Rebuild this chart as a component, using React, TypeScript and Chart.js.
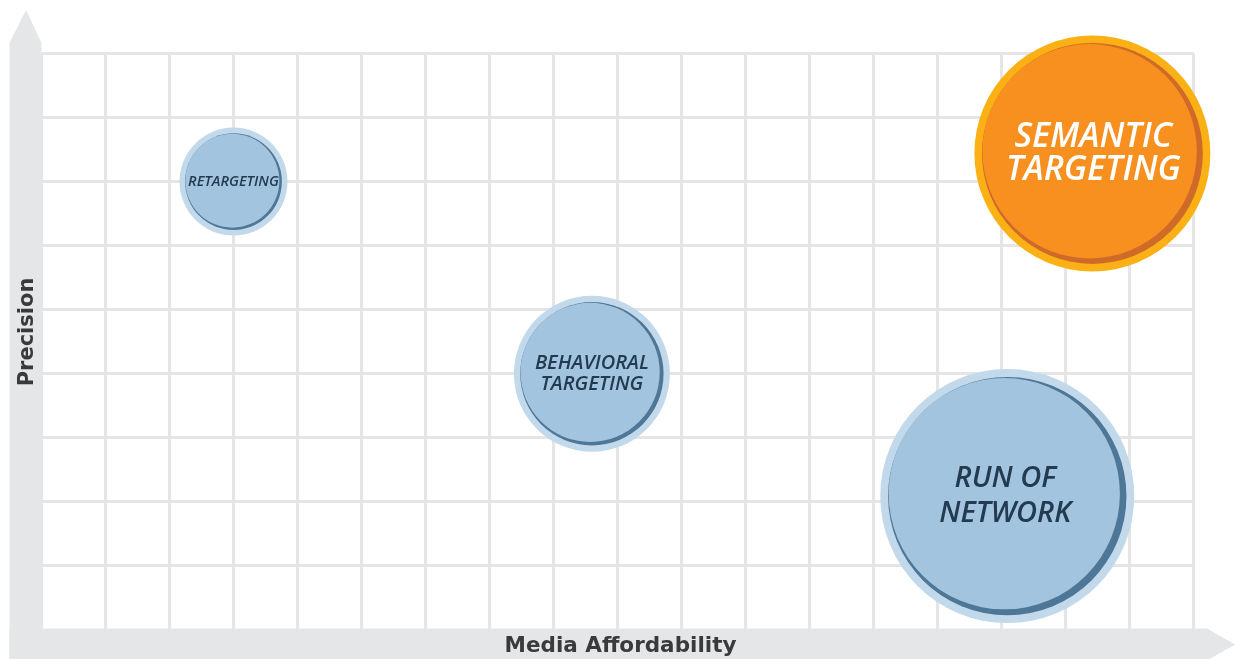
import { useEffect, useRef } from "react";
import { Chart, registerables } from "chart.js";

Chart.register(...registerables);

// ---- data ----
const bubbleNames = ["Retargeting", "Behavioral Targeting", "Semantic Targeting", "Run of Network"];
const labelLines = [["RETARGETING"], ["BEHAVIORAL", "TARGETING"], ["SEMANTIC", "TARGETING"], ["RUN OF", "NETWORK"]];
const affordability = [3.0, 8.6, 16.42, 15.09];
const precision = [7.0, 4.0, 7.44, 2.09];
const bubbleSize = [54, 78, 118, 127];
const xAxisTitle = "Media Affordability";
const yAxisTitle = "Precision";
const xMax = 18;
const yMax = 9;

// ---- styles ----
const ringColors = ["#c2d9eb", "#c2d9eb", "#fbb116", "#c2d9eb"];
const fillColors = ["#a3c4df", "#a3c4df", "#f7901f", "#a3c4df"];
const edgeColors = ["#4e7696", "#4e7696", "#cf6a28", "#4e7696"];
const textColors = ["#223b50", "#223b50", "#ffffff", "#223b50"];
const labelFontSizes = [14.5, 20, 34, 29];
const labelLineHeights = [16, 21, 33, 35];
const textShiftX = [0, 0, 1, -2];
const bandColor = "#e5e6e7";
const gridColor = "#e5e5e5";

const decorPlugin = {
  id: "decor",
  beforeDatasetsDraw(chart: any) {
    const ctx = chart.ctx as CanvasRenderingContext2D;
    const a = chart.chartArea;
    const W = chart.width;
    const H = chart.height;
    ctx.save();
    ctx.fillStyle = bandColor;
    // vertical arrow
    const bx0 = a.left - 32;
    const bx1 = a.left;
    ctx.beginPath();
    ctx.moveTo(bx0, H + 5);
    ctx.lineTo(bx0, 43);
    ctx.lineTo((bx0 + bx1) / 2 + 0.5, 10);
    ctx.lineTo(bx1, 43);
    ctx.lineTo(bx1, H + 5);
    ctx.closePath();
    ctx.fill();
    // horizontal arrow
    const by0 = a.bottom - 1.5;
    const by1 = by0 + 32;
    ctx.beginPath();
    ctx.moveTo(bx0, by0);
    ctx.lineTo(W - 28, by0);
    ctx.lineTo(W, (by0 + by1) / 2);
    ctx.lineTo(W - 28, by1);
    ctx.lineTo(bx0, by1);
    ctx.closePath();
    ctx.fill();
    // axis titles
    ctx.fillStyle = "#3a3a3a";
    ctx.font = 'bold 21.5px "DejaVu Sans"';
    ctx.textAlign = "center";
    ctx.textBaseline = "alphabetic";
    ctx.fillText(xAxisTitle, (a.left + a.right) / 2 + 3, 652);
    ctx.font = 'bold 21px "DejaVu Sans"';
    ctx.translate(33, 332);
    ctx.rotate(-Math.PI / 2);
    ctx.fillText(yAxisTitle, 0, 0);
    ctx.restore();
  },
  afterDatasetsDraw(chart: any) {
    const ctx = chart.ctx as CanvasRenderingContext2D;
    const meta = chart.getDatasetMeta(0);
    ctx.save();
    meta.data.forEach((el: any, i: number) => {
      const R = el.options.radius as number;
      const ring = 4 + 0.03 * R;
      const inner = R - ring;
      const d = 0.025 * R - 0.2;
      // dark edge
      ctx.beginPath();
      ctx.arc(el.x, el.y, inner, 0, Math.PI * 2);
      ctx.fillStyle = edgeColors[i];
      ctx.fill();
      // main fill
      const cx = el.x - d;
      const cy = el.y - d * 0.8;
      ctx.beginPath();
      ctx.arc(cx, cy, inner - d * 1.2, 0, Math.PI * 2);
      ctx.fillStyle = fillColors[i];
      ctx.fill();
      // label
      const lines = labelLines[i];
      const fs = labelFontSizes[i];
      const lh = labelLineHeights[i];
      ctx.font = `italic 600 ${fs}px "Open Sans"`;
      ctx.fillStyle = textColors[i];
      ctx.textAlign = "center";
      ctx.textBaseline = "middle";
      const top = el.y - ((lines.length - 1) * lh) / 2;
      lines.forEach((ln, k) => {
        ctx.fillText(ln, el.x + textShiftX[i], top + k * lh);
      });
    });
    ctx.restore();
  },
};

export default function App() {
  const ref = useRef<HTMLCanvasElement | null>(null);
  useEffect(() => {
    document.body.style.margin = "0";
    const canvas = ref.current;
    if (!canvas) return;
    const chart = new Chart(canvas, {
      type: "bubble",
      data: {
        datasets: [
          {
            label: "Targeting",
            data: bubbleNames.map((_, i) => ({ x: affordability[i], y: precision[i], r: bubbleSize[i] })),
            backgroundColor: ringColors,
            borderWidth: 0,
            hoverBorderWidth: 0,
            hoverRadius: 0,
            clip: false as any,
          },
        ],
      },
      options: {
        responsive: false,
        animation: false,
        events: [],
        layout: { autoPadding: false, padding: { left: 41.5, right: 41.5, top: 53.5, bottom: 29 } },
        plugins: {
          legend: { display: false },
          tooltip: { enabled: false },
          title: { display: false },
        },
        scales: {
          x: {
            type: "linear",
            min: 0,
            max: xMax,
            ticks: { display: false, stepSize: 1 },
            grid: { color: gridColor, lineWidth: 3, drawTicks: false },
            border: { display: false },
          },
          y: {
            type: "linear",
            min: 0,
            max: yMax,
            ticks: { display: false, stepSize: 1 },
            grid: { color: gridColor, lineWidth: 3, drawTicks: false },
            border: { display: false },
          },
        },
      },
      plugins: [decorPlugin],
    });
    let alive = true;
    (document as any).fonts?.ready?.then(() => {
      if (alive) chart.draw();
    });
    return () => {
      alive = false;
      chart.destroy();
    };
  }, []);
  return (
    <div style={{ position: "relative", width: 1235, height: 659, background: "#ffffff" }}>
      <canvas ref={ref} width={1235} height={659} style={{ display: "block" }} />
    </div>
  );
}
